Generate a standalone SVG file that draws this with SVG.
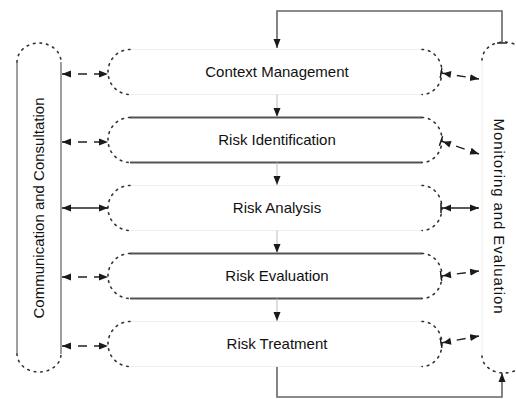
<svg xmlns="http://www.w3.org/2000/svg" width="516" height="399" viewBox="0 0 516 399">
<defs>
<marker id="ae" markerWidth="9" markerHeight="8" refX="9" refY="4" orient="auto" markerUnits="userSpaceOnUse"><path d="M0,0.5 L9,4 L0,7.5 z" fill="#1a1a1a"/></marker>
<marker id="as" markerWidth="9" markerHeight="8" refX="0" refY="4" orient="auto" markerUnits="userSpaceOnUse"><path d="M9,0.5 L0,4 L9,7.5 z" fill="#1a1a1a"/></marker>
<marker id="ts" markerWidth="12" markerHeight="12" refX="1" refY="6" orient="auto" markerUnits="userSpaceOnUse"><path d="M1,1 L1,11" stroke="#1a1a1a" stroke-width="1.5"/><path d="M11,2.5 L3,6 L11,9.5 z" fill="#1a1a1a"/></marker>
<marker id="tee" markerWidth="10" markerHeight="4" refX="5" refY="2" orient="0" markerUnits="userSpaceOnUse"><path d="M0,2 L10,2" stroke="#333" stroke-width="1.6"/></marker>
</defs>
<style>
.dot{fill:none;stroke:#333;stroke-width:1.6;stroke-dasharray:1.6 5;stroke-linecap:round}
.edge{fill:none;stroke:#555;stroke-width:1.8}
.faint{fill:none;stroke:#eeeeee;stroke-width:1}
.side{fill:none;stroke:#888;stroke-width:1.6}
.flow{fill:none;stroke:#bbb;stroke-width:1}
.conn{fill:none;stroke:#222;stroke-width:1.4}
.dash{stroke-dasharray:9 7}
.fb{fill:none;stroke:#666;stroke-width:1.6}
text{font-family:"Liberation Sans",Arial,sans-serif;font-size:15px;fill:#111;text-anchor:middle}
</style>

<g id="communication">
<path class="side" d="M17,62 L17,354 M61,62 L61,354"/>
<path class="dot" d="M17,62 A22,19 0 0 1 61,62"/>
<path class="dot" d="M17,354 A22,18 0 0 0 61,354"/>
<text transform="translate(44,208) rotate(-90)">Communication and Consultation</text>
</g>

<g id="monitoring">
<path class="faint" d="M482,60 L482,356"/>
<path class="dot" d="M482,60 A22,18 0 0 1 526,60"/>
<path class="dot" d="M482,356 A22,17 0 0 0 526,356"/>
<text transform="translate(494,216) rotate(90)" textLength="195">Monitoring and Evaluation</text>
</g>

<g id="context">
<path class="faint" d="M130,49.5 L422,49.5 M130,94.5 L422,94.5"/>
<path class="dot" d="M130,49.5 A22,22.5 0 0 0 130,94.5 M422,49.5 A20,22.5 0 0 1 422,94.5"/>
<text x="277" y="77">Context Management</text>
</g>

<g id="identification">
<path class="edge" d="M130,117.5 L422,117.5 M130,162.5 L422,162.5"/>
<path class="dot" d="M130,117.5 A22,22.5 0 0 0 130,162.5 M422,117.5 A20,22.5 0 0 1 422,162.5"/>
<text x="277" y="145">Risk Identification</text>
</g>

<g id="analysis">
<path class="faint" d="M130,185.5 L422,185.5 M130,230.5 L422,230.5"/>
<path class="dot" d="M130,185.5 A22,22.5 0 0 0 130,230.5 M422,185.5 A20,22.5 0 0 1 422,230.5"/>
<text x="277" y="213">Risk Analysis</text>
</g>

<g id="evaluation">
<path class="edge" d="M130,253.5 L422,253.5 M130,298.5 L422,298.5"/>
<path class="dot" d="M130,253.5 A22,22.5 0 0 0 130,298.5 M422,253.5 A20,22.5 0 0 1 422,298.5"/>
<text x="277" y="281">Risk Evaluation</text>
</g>

<g id="treatment">
<path class="faint" d="M130,321.5 L422,321.5 M130,366.5 L422,366.5"/>
<path class="dot" d="M130,321.5 A22,22.5 0 0 0 130,366.5 M422,321.5 A20,22.5 0 0 1 422,366.5"/>
<text x="277" y="349">Risk Treatment</text>
</g>

<g id="connectors">
<!-- flow down -->
<path class="flow" d="M277,94.5 L277,117" marker-end="url(#ae)"/>
<path class="flow" d="M277,162.5 L277,185" marker-end="url(#ae)"/>
<path class="flow" d="M277,230.5 L277,253" marker-end="url(#ae)"/>
<path class="flow" d="M277,298.5 L277,321" marker-end="url(#ae)"/>
<!-- feedback loops -->
<path class="fb" d="M502,43 L502,11 L277,11 L277,48" marker-start="url(#tee)" marker-end="url(#ae)"/>
<path class="fb" d="M277,367 L277,397 L502,397 L502,373" marker-end="url(#ae)"/>
<!-- communication links -->
<path class="conn dash" d="M62,74 L108,74" marker-start="url(#as)" marker-end="url(#ae)"/>
<path class="conn dash" d="M62,142 L108,142" marker-start="url(#as)" marker-end="url(#ae)"/>
<path class="conn" d="M62,208 L108,208" marker-start="url(#as)" marker-end="url(#ae)"/>
<path class="conn dash" d="M62,277 L108,277" marker-start="url(#as)" marker-end="url(#ae)"/>
<path class="conn dash" d="M62,346 L108,346" marker-start="url(#as)" marker-end="url(#ae)"/>
<!-- monitoring links -->
<path class="conn dash" d="M441,73 L479,79" marker-start="url(#ts)" marker-end="url(#ae)"/>
<path class="conn dash" d="M441,141 L479,154" marker-start="url(#ts)" marker-end="url(#ae)"/>
<path class="conn" d="M441,208 L479,208" marker-start="url(#ts)" marker-end="url(#ae)"/>
<path class="conn dash" d="M441,276 L479,271" marker-start="url(#ts)" marker-end="url(#ae)"/>
<path class="conn dash" d="M441,343 L479,336" marker-start="url(#ts)" marker-end="url(#ae)"/>
</g>
</svg>
